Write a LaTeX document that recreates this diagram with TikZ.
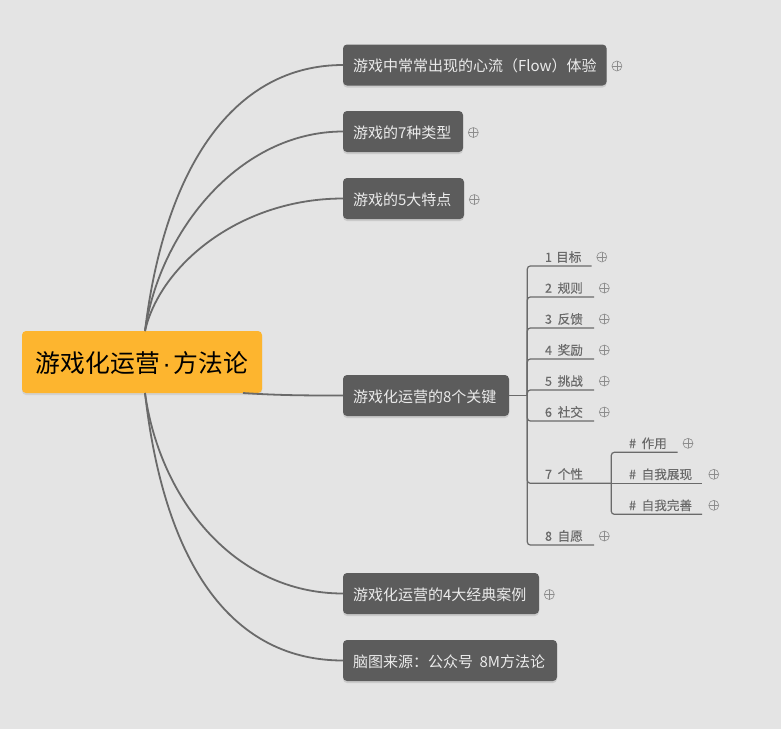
\documentclass[tikz,border=0pt]{standalone}
\usepackage{fontspec}
\setmainfont{Noto Sans CJK SC}
\newfontfamily\leaffont[FakeBold=0.25]{Noto Sans CJK SC}
\newfontfamily\dotfont{Liberation Sans}
\usepackage{xcolor}
\usetikzlibrary{positioning, shadows}
\definecolor{canvas}{HTML}{E4E4E4}
\definecolor{rootfill}{HTML}{FDB52F}
\definecolor{topicfill}{HTML}{5C5C5C}
\definecolor{linegray}{HTML}{6A6A6A}
\definecolor{leafgray}{HTML}{6A6A6A}
\definecolor{marker}{HTML}{8C8C8C}
\newcommand{\lsp}{\hspace{1.5pt} }

\begin{document}
\begin{tikzpicture}[
        x=1pt, y=-1pt,
        central/.style={rectangle, rounded corners=4pt, fill=rootfill, text=black, minimum width=240pt, minimum height=62pt, inner sep=0pt, outer sep=0pt, text height=22.5pt, text depth=0.6pt, font=\fontsize{24.8}{25}\selectfont, drop shadow={opacity=0.18, shadow xshift=0pt, shadow yshift=-2pt}},
        topic/.style={rectangle, rounded corners=4pt, fill=topicfill, text=white!92!black, anchor=west, minimum height=41pt, inner xsep=10pt, inner ysep=0pt, outer sep=0pt, align=left, text height=14pt, text depth=0.6pt, font=\fontsize{15}{15}\selectfont, drop shadow={opacity=0.25, shadow xshift=0pt, shadow yshift=-2pt}},
        leaf/.style={rectangle, text=leafgray, minimum height=18pt, inner xsep=0pt, inner ysep=0pt, outer sep=0pt, font=\leaffont\fontsize{12.6}{12.6}\selectfont},
        expander/.style={circle, draw=marker, line width=0.6pt, minimum size=10pt, inner sep=0pt, path picture={
            \draw[marker, line width=0.6pt] (path picture bounding box.north) -- (path picture bounding box.south);
            \draw[marker, line width=0.6pt] (path picture bounding box.west) -- (path picture bounding box.east);}},
        topicmark/.style={expander, yshift=-1pt},
        curve/.style={draw=linegray, line width=1.8pt},
        branch/.style={draw=linegray, line width=1.2pt, rounded corners=3pt},
        node distance=5pt
    ]

    \fill[canvas, use as bounding box] (0,0) rectangle (781,729);

    % Root and topics
    \node[central] (root) at (142,362) {游戏化运营\kern2.8pt{\dotfont ·}\kern2.8pt 方法论};
    \node[topic] (T1) at (343,65) {游戏中常常出现的心流（Flow）体验};
    \node[topic, text width=100pt] (T2) at (343,131.5) {游戏的7种类型};
    \node[topic, text width=101pt] (T3) at (343,198.5) {游戏的5大特点};
    \node[topic, text width=146pt] (T4) at (343,395.5) {游戏化运营的8个关键};
    \node[topic, text width=176pt] (T5) at (343,593.5) {游戏化运营的4大经典案例};
    \node[topic, text width=194pt] (T6) at (343,660.5) {脑图来源：公众号\hspace{1.5pt} 8M方法论};

    % Leaves
    \node[leaf, anchor=south west, text width=46.5pt] (L1) at (545,266) {1 目标};
    \node[leaf, below=13pt of L1.south west, anchor=north west, text width=49pt] (L2) {2\lsp 规则};
    \node[leaf, below=13pt of L2.south west, anchor=north west, text width=49pt] (L3) {3\lsp 反馈};
    \node[leaf, below=13pt of L3.south west, anchor=north west, text width=49pt] (L4) {4\lsp 奖励};
    \node[leaf, below=13pt of L4.south west, anchor=north west, text width=49pt] (L5) {5\lsp 挑战};
    \node[leaf, below=13pt of L5.south west, anchor=north west, text width=49pt] (L6) {6\lsp 社交};
    \node[leaf, below=44pt of L6.south west, anchor=north west, text width=49pt] (L7) {7\lsp 个性};
    \node[leaf, below=44pt of L7.south west, anchor=north west, text width=49pt] (L8) {8\lsp 自愿};

    % Second level leaves
    \node[leaf, anchor=south west, text width=48.7pt] (S1) at (629,452.3) {\#\lsp 作用};
    \node[leaf, below=13pt of S1.south west, anchor=north west, text width=73pt] (S2) {\#\lsp 自我展现};
    \node[leaf, below=13pt of S2.south west, anchor=north west, text width=73pt] (S3) {\#\lsp 自我完善};

    % Expanders
    \node[topicmark, right=of T1] (E1) {};
    \node[topicmark, right=of T2] (E2) {};
    \node[topicmark, right=of T3] (E3) {};
    \node[topicmark, right=of T5] (E5) {};
    \node[expander, right=of L1] (EL1) {};
    \node[expander, right=of L2] (EL2) {};
    \node[expander, right=of L3] (EL3) {};
    \node[expander, right=of L4] (EL4) {};
    \node[expander, right=of L5] (EL5) {};
    \node[expander, right=of L6] (EL6) {};
    \node[expander, right=of L8] (EL8) {};
    \node[expander, right=of S1] (ES1) {};
    \node[expander, right=6.5pt of S2] (ES2) {};
    \node[expander, right=6.5pt of S3] (ES3) {};

    % Junctions
    \coordinate (rootN) at (145,331);
    \coordinate (rootS) at (145,393);
    \coordinate (rootE) at (243,393);
    \coordinate (J4) at (527.3,395.5);
    \coordinate (J7) at (611.3,483.3);

    % Curves
    \draw[curve] (rootN) .. controls (165,165) and (235,65) .. (T1.west);
    \draw[curve] (rootN) .. controls (160,230) and (240,131.5) .. (T2.west);
    \draw[curve] (rootN) .. controls (160,265) and (240,198.5) .. (T3.west);
    \draw[curve] (rootE) .. controls (280,395.5) and (310,395.5) .. (T4.west);
    \draw[curve] (rootS) .. controls (160,500) and (235,593.5) .. (T5.west);
    \draw[curve] (rootS) .. controls (165,570) and (235,660.5) .. (T6.west);

    % Branches
    \draw[curve] (T4.east) -- (J4);
    \draw[branch] (J4) |- (L1.south east);
    \draw[branch] (J4) |- (L2.south east);
    \draw[branch] (J4) |- (L3.south east);
    \draw[branch] (J4) |- (L4.south east);
    \draw[branch] (J4) |- (L5.south east);
    \draw[branch] (J4) |- (L6.south east);
    \draw[branch] (J4) |- (J7);
    \draw[branch] (J4) |- (L8.south east);
    \draw[branch] (J7) |- (S1.south east);
    \draw[branch] (J7) -- (S2.south east);
    \draw[branch] (J7) |- (S3.south east);

\end{tikzpicture}
\end{document}
